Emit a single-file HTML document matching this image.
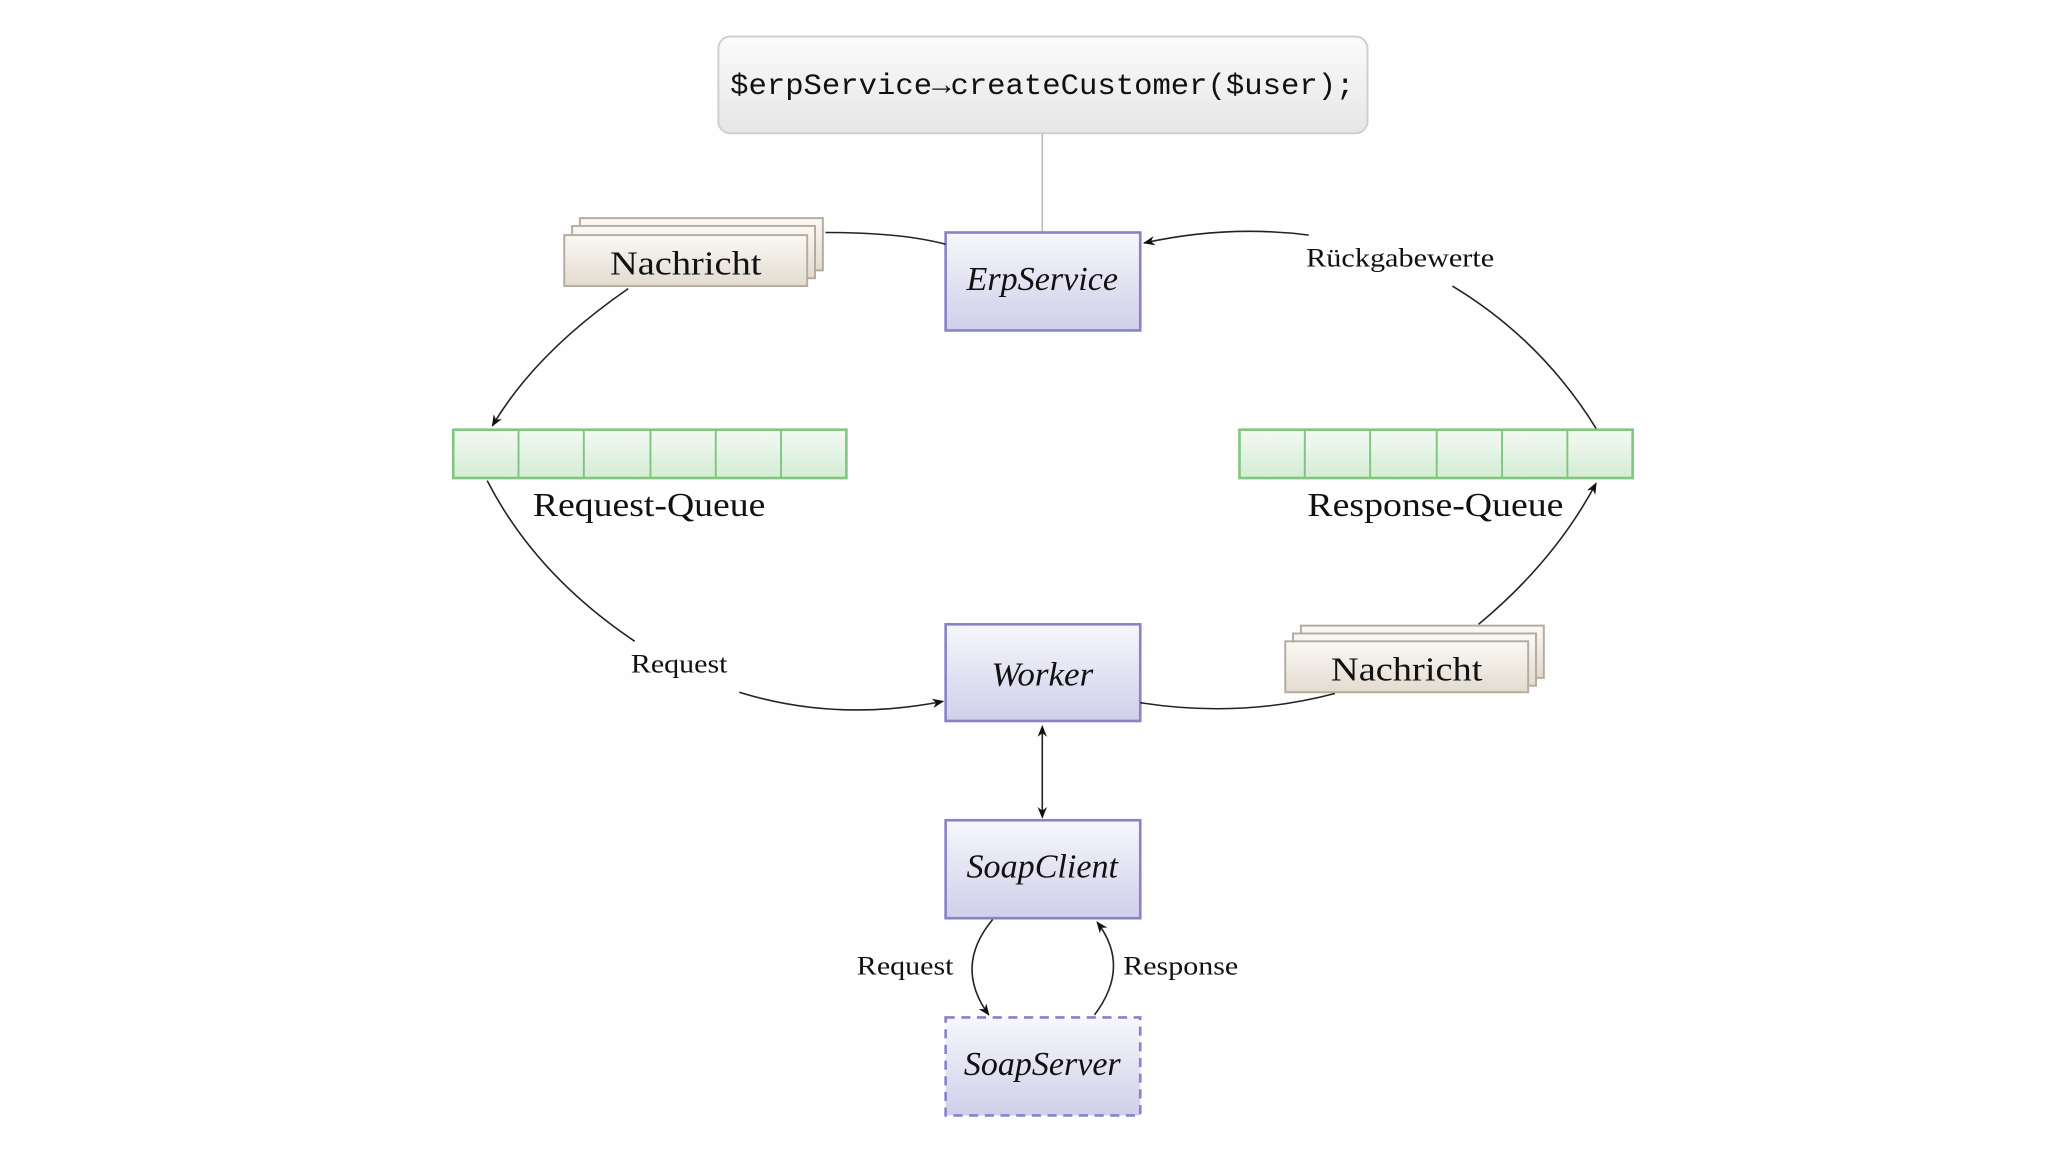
<!DOCTYPE html>
<html><head><meta charset="utf-8"><style>
html,body{margin:0;padding:0;background:#fefefe;}
svg{display:block;}
.n{font-family:"Liberation Serif",serif;font-style:italic;font-size:26px;text-anchor:middle;fill:#111;}
.r{font-family:"Liberation Serif",serif;font-size:26px;text-anchor:middle;fill:#111;}
.l{font-family:"Liberation Serif",serif;font-size:20px;fill:#111;}
.c{fill:none;stroke:#222;stroke-width:1.2;}
</style></head><body>
<svg width="2048" height="1152" viewBox="0 0 1568 882" xmlns="http://www.w3.org/2000/svg">
<defs>
<linearGradient id="gc" x1="0" y1="0" x2="0" y2="1"><stop offset="0" stop-color="#fbfbfb"/><stop offset="1" stop-color="#e6e6e6"/></linearGradient>
<linearGradient id="gb" x1="0" y1="0" x2="0" y2="1"><stop offset="0" stop-color="#f7f7fc"/><stop offset="1" stop-color="#cfcfea"/></linearGradient>
<linearGradient id="gn" x1="0" y1="0" x2="0" y2="1"><stop offset="0" stop-color="#fbf9f5"/><stop offset="1" stop-color="#e2dbd0"/></linearGradient>
<linearGradient id="gq" x1="0" y1="0" x2="0" y2="1"><stop offset="0" stop-color="#f3faf3"/><stop offset="1" stop-color="#d4ecd4"/></linearGradient>
<marker id="a" viewBox="0 0 10 10" refX="9" refY="5" markerWidth="9" markerHeight="9" orient="auto-start-reverse" markerUnits="userSpaceOnUse"><path d="M0,1 L10,5 L0,9 L3,5 Z" fill="#111"/></marker>
</defs>
<rect x="550" y="28" width="497" height="74" rx="9" fill="url(#gc)" stroke="#cfcfcf" stroke-width="1.5"/>
<text x="798" y="72" font-family="Liberation Mono,monospace" font-size="23" text-anchor="middle" textLength="478" lengthAdjust="spacingAndGlyphs" fill="#111">$erpService→createCustomer($user);</text>
<line x1="798" y1="102" x2="798" y2="178" stroke="#bbb" stroke-width="1.2"/>

<g stroke="#8a82c9" stroke-width="2" fill="url(#gb)">
<rect x="724" y="178" width="149" height="75"/>
<rect x="724" y="478" width="149" height="74"/>
<rect x="724" y="628" width="149" height="75"/>
<rect x="724" y="779" width="149" height="75" stroke-dasharray="7,5"/>
</g>
<text class="n" x="798" y="222" textLength="116" lengthAdjust="spacingAndGlyphs">ErpService</text>
<text class="n" x="798" y="525" textLength="78" lengthAdjust="spacingAndGlyphs">Worker</text>
<text class="n" x="798" y="672" textLength="116" lengthAdjust="spacingAndGlyphs">SoapClient</text>
<text class="n" x="798" y="823" textLength="120" lengthAdjust="spacingAndGlyphs">SoapServer</text>

<g stroke="#b5ab9e" stroke-width="1.5" fill="url(#gn)">
<rect x="444" y="167" width="186" height="40"/>
<rect x="438" y="173" width="186" height="40"/>
<rect x="432" y="180" width="186" height="39"/>
<rect x="996" y="479" width="186" height="40"/>
<rect x="990" y="485" width="186" height="40"/>
<rect x="984" y="491" width="186" height="39"/>
</g>
<text class="r" x="525" y="210" textLength="116" lengthAdjust="spacingAndGlyphs">Nachricht</text>
<text class="r" x="1077" y="521" textLength="116" lengthAdjust="spacingAndGlyphs">Nachricht</text>

<g stroke="#80c680" stroke-width="2" fill="url(#gq)">
<rect x="347" y="329" width="301" height="37"/>
<rect x="949" y="329" width="301" height="37"/>
</g>
<g stroke="#80c680" stroke-width="1.5">
<line x1="397" y1="329" x2="397" y2="366"/><line x1="447" y1="329" x2="447" y2="366"/><line x1="498" y1="329" x2="498" y2="366"/><line x1="548" y1="329" x2="548" y2="366"/><line x1="598" y1="329" x2="598" y2="366"/>
<line x1="999" y1="329" x2="999" y2="366"/><line x1="1049" y1="329" x2="1049" y2="366"/><line x1="1100" y1="329" x2="1100" y2="366"/><line x1="1150" y1="329" x2="1150" y2="366"/><line x1="1200" y1="329" x2="1200" y2="366"/>
</g>
<text class="r" x="497" y="395" textLength="178" lengthAdjust="spacingAndGlyphs">Request-Queue</text>
<text class="r" x="1099" y="395" textLength="196" lengthAdjust="spacingAndGlyphs">Response-Queue</text>

<path class="c" d="M632,178 Q690,178 724,187"/>
<path class="c" d="M481,221 Q410,270 377,326" marker-end="url(#a)"/>
<path class="c" d="M373,368 Q410,440 486,491"/>
<text class="l" x="520" y="515" text-anchor="middle" textLength="74" lengthAdjust="spacingAndGlyphs">Request</text>
<path class="c" d="M566,530 Q640,553 722,537" marker-end="url(#a)"/>
<path class="c" d="M873,538 Q950,550 1022,531"/>
<path class="c" d="M1132,478 Q1190,430 1222,370" marker-end="url(#a)"/>
<path class="c" d="M1222,328 Q1180,260 1112,219"/>
<text class="l" x="1072" y="204" text-anchor="middle" textLength="144" lengthAdjust="spacingAndGlyphs">Rückgabewerte</text>
<path class="c" d="M1002,180 Q940,172 876,186" marker-end="url(#a)"/>
<line class="c" x1="798" y1="556" x2="798" y2="626" marker-start="url(#a)" marker-end="url(#a)"/>
<path class="c" d="M760,704 Q730,740 757,777" marker-end="url(#a)"/>
<text class="l" x="730" y="746" text-anchor="end" textLength="74" lengthAdjust="spacingAndGlyphs">Request</text>
<path class="c" d="M838,777 Q866,740 840,706" marker-end="url(#a)"/>
<text class="l" x="860" y="746" textLength="88" lengthAdjust="spacingAndGlyphs">Response</text>
</svg>
</body></html>
